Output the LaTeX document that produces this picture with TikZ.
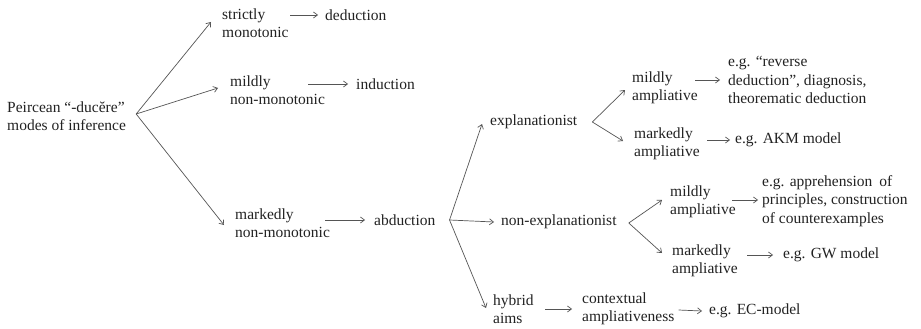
\documentclass[tikz,border=0pt]{standalone}
\usepackage{fontspec}
\setmainfont{Liberation Serif}
\usetikzlibrary{arrows.meta}
\definecolor{txt}{HTML}{222222}
\definecolor{ln}{HTML}{555555}
\begin{document}
\begin{tikzpicture}[x=1pt,y=-1pt,
  lbl/.style={anchor=west,inner sep=0pt,align=left,text=txt,font=\fontsize{15.5}{18.5}\selectfont},
  arr/.style={draw=ln,line width=0.7pt,-{Straight Barb[length=4pt,width=6pt]}},
]
\useasboundingbox[fill=white] (0,0) rectangle (921,329);
% nodes
\node[lbl] (root) at (7,116) {Peircean “-ducĕre”\\modes of inference};
\node[lbl] (sm) at (222,23) {strictly\\monotonic};
\node[lbl] (ded) at (325,15) {deduction};
\node[lbl] (mn) at (230,90) {mildly\\non-monotonic};
\node[lbl] (ind) at (356,84) {induction};
\node[lbl] (mk) at (235,223) {markedly\\non-monotonic};
\node[lbl] (abd) at (374,220) {abduction};
\node[lbl] (expl) at (490,122) {explanationist};
\node[lbl] (nexpl) at (501,222) {non-explanationist};
\node[lbl] (hyb) at (493,309) {hybrid\\aims};
\node[lbl] (ctx) at (582,309) {contextual\\ampliativeness};
\node[lbl] (ec) at (709,311) {e.g. EC-model};
\node[lbl] (ema) at (632,88) {mildly\\ampliative};
\node[lbl] (erev) at (728,80) {e.g. “reverse\\deduction”, diagnosis,\\theorematic deduction};
\node[lbl] (emk) at (634,144) {markedly\\ampliative};
\node[lbl] (akm) at (735,140) {e.g. AKM model};
\node[lbl] (nma) at (670,202) {mildly\\ampliative};
\node[lbl] (app) at (762,201) {e.g. apprehension\hspace{3pt} of\\principles, construction\\of counterexamples};
\node[lbl] (nmk) at (672,261) {markedly\\ampliative};
\node[lbl] (gw) at (783,255) {e.g. GW model};
% fork points
\coordinate (f1) at ([xshift=10pt,yshift=2pt]root.east);
\coordinate (f2) at ([xshift=14pt]abd.east);
\coordinate (f3) at ([xshift=15pt]expl.east);
\coordinate (f4) at ([xshift=12pt,yshift=-1pt]nexpl.east);
% fans
\draw[arr] (f1) -- ([xshift=-11pt,yshift=1pt]sm.west);
\draw[arr] (f1) -- ([xshift=-12pt,yshift=2pt]mn.west);
\draw[arr] (f1) -- ([xshift=-11pt,yshift=-2pt]mk.west);
\draw[arr] (f2) -- ([xshift=-8pt,yshift=-2pt]expl.west);
\draw[arr] (f2) -- ([xshift=-7pt]nexpl.west);
\draw[arr] (f2) -- ([xshift=-7pt,yshift=1pt]hyb.west);
\draw[arr] (f3) -- ([xshift=-7pt,yshift=-2pt]ema.west);
\draw[arr] (f3) -- ([xshift=-11pt,yshift=3pt]emk.west);
\draw[arr] (f4) -- ([xshift=-8pt,yshift=2pt]nma.west);
\draw[arr] (f4) -- ([xshift=-10pt,yshift=8pt]nmk.west);
% horizontal arrows
\draw[arr] ([xshift=68pt]sm.west |- ded.west) -- ([xshift=-7pt]ded.west);
\draw[arr] ([xshift=78pt]mn.west |- ind.west) -- ([xshift=-8pt]ind.west);
\draw[arr] ([xshift=90pt]mk.west |- abd.west) -- ([xshift=-9pt]abd.west);
\draw[arr] ([xshift=52pt]hyb.west |- ctx.west) -- ([xshift=-10pt]ctx.west);
\draw[arr] ([xshift=4pt,yshift=-1pt]ctx.east) -- ([xshift=-7pt]ec.west);
\draw[arr] ([xshift=63pt]ema.west |- erev.west) -- ([xshift=-8pt]erev.west);
\draw[arr] ([xshift=73pt]emk.west |- akm.west) -- ([xshift=-5pt]akm.west);
\draw[arr] ([xshift=62pt,yshift=2pt]nma.west) -- ([xshift=-4pt,yshift=1pt]app.west);
\draw[arr] ([xshift=75pt]nmk.west |- gw.west) -- ([xshift=-10pt]gw.west);
\end{tikzpicture}
\end{document}
